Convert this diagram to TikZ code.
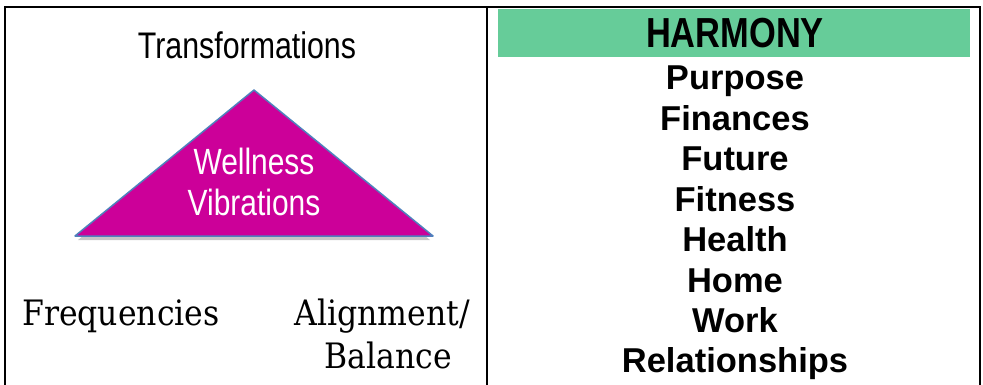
\documentclass[tikz,border=0pt]{standalone}
\usepackage{fontspec}
\usepackage{tikz}
\usetikzlibrary{positioning}
\setmainfont{DejaVu Serif Condensed}
\setsansfont{Liberation Sans}
\newfontfamily\narrowfont[FakeStretch=0.82]{Liberation Sans}
\newfontfamily\narrowboldfont[FakeStretch=0.82]{Liberation Sans Bold}

\definecolor{harmonygreen}{HTML}{66CC99}
\definecolor{wellmagenta}{HTML}{CC0099}
\definecolor{wellblue}{HTML}{4F81BD}

\tikzset{
    frame/.style={line width=2pt},
    item/.style={inner sep=0pt,text height=28pt,text depth=12pt,
        font=\sffamily\bfseries\fontsize{34.5}{40}\selectfont},
    word/.style={inner sep=0pt,font=\rmfamily\fontsize{35}{40}\selectfont}
}

\begin{document}
\begin{tikzpicture}[x=1pt,y=-1pt]
        \useasboundingbox (0,0) rectangle (983,385);
        % frame
        \draw[frame] (5,385) -- (5,7) -- (980,7) -- (980,385);
        \draw[frame] (487,7) -- (487,385);
        % left cell
        \node[inner sep=0pt,font=\narrowfont\fontsize{37}{40}\selectfont] (trans) at (247,45) {Transformations};
        \coordinate (top) at (254,90);
        \coordinate (bl) at (75,236);
        \coordinate (br) at (433,236);
        \fill[gray,opacity=0.45] ([shift={(3,4)}]bl) -- ([shift={(0,4)}]top) -- ([shift={(-3,4)}]br) -- cycle;
        \fill[wellmagenta,draw=wellblue,line width=1.5pt,line join=round] (top) -- (br) -- (bl) -- cycle;
        \node[inner sep=0pt,text=white,align=center,font=\narrowfont\fontsize{36.5}{41}\selectfont] (well) at (254,182) {Wellness\\Vibrations};
        \node[word,anchor=base west] (freq) at (22,325) {Frequencies};
        \node[word,anchor=base east] (align) at (470,325) {Alignment/};
        \node[word,anchor=base east] (bal) at (452,368) {Balance};
        % right cell
        \fill[harmonygreen] (498,9) rectangle (970,57);
        \node[inner sep=0pt,font=\narrowboldfont\fontsize{42}{44}\selectfont] (harmony) at (735,33) {HARMONY};
        \node[item,anchor=base] (purpose) at (735,90) {Purpose};
        \node[item,below=0pt of purpose] (finances) {Finances};
        \node[item,below=0pt of finances] (future) {Future};
        \node[item,below=0pt of future] (fitness) {Fitness};
        \node[item,below=0pt of fitness] (health) {Health};
        \node[item,below=0pt of health] (home) {Home};
        \node[item,below=0pt of home] (work) {Work};
        \node[item,below=0pt of work] (relations) {Relationships};
    \end{tikzpicture}
\end{document}
